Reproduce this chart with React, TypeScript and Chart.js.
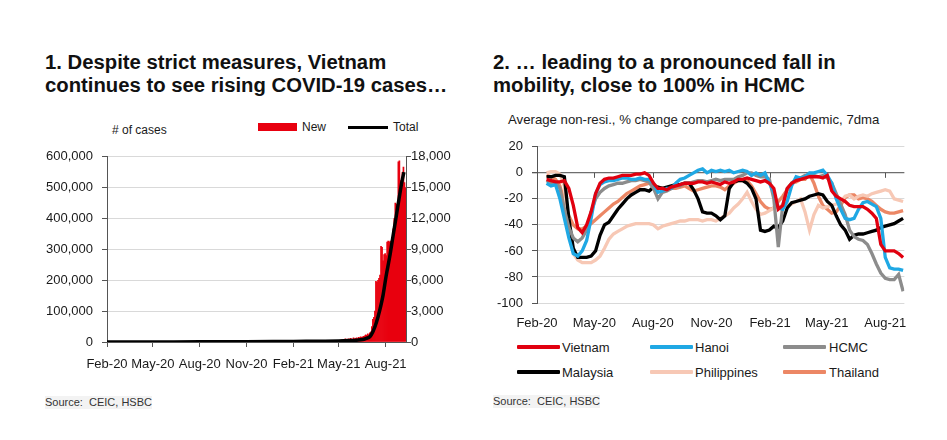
import React, { useEffect, useRef } from 'react';
import { Chart, registerables } from 'chart.js';

Chart.register(...registerables);

const FONT = '"Liberation Sans", Arial, Helvetica, sans-serif';

// Shared quarterly ticks (days since 1 Feb 2020)
const tickDays = [0, 90, 182, 274, 366, 455, 547];
const tickLabels = ['Feb-20', 'May-20', 'Aug-20', 'Nov-20', 'Feb-21', 'May-21', 'Aug-21'];

// Chart 1: Vietnam COVID-19 cases
const newDays = [
  450, 452, 454, 456, 458, 460, 462, 464, 466, 468, 470,
  472, 474, 476, 478, 480, 482, 484, 486, 488, 490, 492, 494, 496, 498, 500,
  502, 504, 506, 508, 510, 512, 514, 516,
  518, 520, 522, 524, 526,
  528, 530, 532, 534, 536,
  538, 540, 542, 544, 546, 548,
  550, 552, 554, 556, 558, 560,
  562, 564, 566, 568, 570, 572, 574,
  576, 578, 580, 582, 584, 586,
];
const newCases = [
  50, 80, 100, 150, 120, 180, 200, 150, 250, 300, 200,
  250, 300, 200, 350, 300, 250, 400, 300, 350, 400, 300, 450, 400, 500, 450,
  500, 550, 600, 700, 650, 800, 700, 900,
  1000, 1500, 2200, 2400, 3000,
  5900, 5800, 6000, 6200, 6500,
  9300, 9200, 7900, 8500, 8600, 8400,
  9700, 9800, 9700, 9800, 9700, 9600,
  11000, 12000, 13500, 13400, 12500, 17500, 17600,
  15700, 15500, 16500, 17000, 15500, 15000,
];
const totalDays = [0, 90, 182, 274, 366, 455, 477, 490, 502, 509, 516, 522, 529, 535, 542, 548, 555, 561, 568, 575, 579, 583];
const totalCases = [0, 300, 500, 1200, 2000, 3000, 4500, 6000, 8000, 12000, 17000, 33000, 64000, 100000, 152000, 214000, 276000, 338000, 409000, 481000, 520000, 550000];

const leftTicks = [0, 100000, 200000, 300000, 400000, 500000, 600000];
const rightTicks = [0, 3000, 6000, 9000, 12000, 15000, 18000];

// Chart 2: mobility, weekly readings starting 16 Feb 2020 (day 15), every 7 days
const mobilityFirstDay = 15;
const mobilityStep = 7;
const vietnam = [
  -5, -6, -7, -7, -6, -12, -25, -42, -46, -40, -30, -16, -8, -5, -4, -4, -3, -2, -2, -2,
  -1, -1, 0, -2, -8, -12, -12, -13, -11, -10, -9, -8, -8, -8, -7, -7, -8, -7, -8, -9,
  -7, -8, -7, -5, -5, -4, -5, -6, -7, -6, -8, -12, -28, -25, -12, -8, -6, -5, -4, -3,
  -3, -3, -4, -2, -14, -18, -20, -22, -25, -26, -26, -26, -28, -31, -35, -55, -60, -60, -60, -62,
  -65,
];
const hanoi = [
  -8, -10, -9, -20, -35, -50, -62, -64, -60, -52, -35, -16, -9, -7, -6, -6, -5, -4, -4, -5,
  -5, -4, -5, -5, -8, -15, -14, -12, -12, -8, -5, -4, -2, 0, 2, 3, 0, 2, 1, 2,
  1, 2, 0, 1, 2, 1, -2, 0, -2, 0, -8, -15, -27, -28, -22, -10, -3, -4, -3, 0,
  0, 1, 2, -2, -8, -20, -28, -35, -36, -35, -28, -23, -22, -24, -26, -35, -65, -73, -74, -74,
  -75,
];
const hcmc = [
  -6, -8, -7, -12, -28, -42, -50, -53, -50, -44, -30, -20, -15, -12, -10, -9, -8, -8, -7, -6,
  -6, -5, -6, -7, -12, -20, -15, -14, -12, -10, -10, -8, -8, -7, -6, -6, -7, -6, -5, -6,
  -5, -5, -5, -3, -2, 0, 0, -2, -3, -3, -5, -20, -57, -25, -12, -8, -5, -4, -2, -2,
  -2, -3, -2, -4, -8, -16, -24, -32, -44, -49, -51, -52, -55, -62, -70, -77, -81, -82, -82, -78,
  -91,
];
const malaysia = [
  -3, -3, -2, -2, -3, -35, -58, -65, -65, -65, -64, -60, -48, -40, -38, -33, -28, -24, -20, -17,
  -15, -13, -13, -14, -11, -11, -12, -11, -10, -9, -9, -8, -8, -13, -20, -30, -31, -31, -33, -36,
  -33, -12, -7, -6, -6, -8, -12, -20, -44, -45, -44, -41, -42, -37, -27, -23, -22, -21, -20, -18,
  -17, -16, -17, -22, -25, -33, -40, -44, -51, -48, -47, -47, -46, -45, -44, -42, -41, -40, -39, -37,
  -35,
];
const philippines = [
  0, 1, 1, -1, -10, -45, -62, -67, -69, -69, -69, -67, -64, -58, -51, -47, -45, -43, -41, -40,
  -39, -39, -39, -39, -40, -43, -41, -40, -39, -38, -37, -37, -36, -36, -36, -37, -36, -36, -37, -35,
  -33, -31, -27, -24, -20, -15, -22, -28, -32, -31, -29, -27, -26, -25, -25, -24, -22, -20, -30, -44,
  -32, -25, -27, -26, -25, -24, -22, -18, -17, -20, -18, -17, -18, -16, -15, -14, -13, -14, -20, -21,
  -22,
];
const thailand = [
  -2, -3, -5, -10, -22, -33, -40, -43, -43, -41, -39, -36, -33, -30, -27, -24, -22, -19, -16, -14,
  -12, -10, -9, -8, -9, -11, -12, -13, -12, -12, -11, -10, -12, -14, -13, -12, -11, -10, -10, -11,
  -13, -10, -8, -6, -6, -6, -10, -16, -22, -26, -28, -27, -22, -18, -13, -8, -7, -5, -5, -1,
  -8, -18, -25, -28, -31, -30, -25, -19, -17, -17, -20, -19, -20, -22, -25, -28, -30, -31, -31, -30,
  -29,
];
const mobilityTicks = [20, 0, -20, -40, -60, -80, -100];

const seriesNames = ['Vietnam', 'Hanoi', 'HCMC', 'Malaysia', 'Philippines', 'Thailand'];
const seriesValues = [vietnam, hanoi, hcmc, malaysia, philippines, thailand];
const seriesColors = ['#E1000F', '#1FA8E4', '#8C8C8C', '#000000', '#F7C8B5', '#EC8765'];

const AXIS = '#555555';
const GRID = '#D9D9D9';

const zeroTicksPlugin = {
  id: 'zeroTicks',
  beforeDatasetsDraw(chart: any) {
    const { ctx, scales } = chart;
    const x = scales.x;
    const y = scales.y;
    const y0 = y.getPixelForValue(0);
    ctx.save();
    ctx.strokeStyle = AXIS;
    ctx.lineWidth = 1;
    x.ticks.forEach((t: any) => {
      const px = Math.round(x.getPixelForValue(t.value)) + 0.5;
      ctx.beginPath();
      ctx.moveTo(px, y0);
      ctx.lineTo(px, y0 + 5);
      ctx.stroke();
    });
    ctx.restore();
  },
};

function setQuarterTicks(scale: any) {
  scale.ticks = tickDays.map((v) => ({ value: v }));
}

export default function App() {
  const leftRef = useRef<HTMLCanvasElement>(null);
  const rightRef = useRef<HTMLCanvasElement>(null);

  useEffect(() => {
    document.body.style.margin = '0';
    Chart.defaults.font.family = FONT;
    Chart.defaults.color = '#1a1a1a';

    const c1 = new Chart(leftRef.current as HTMLCanvasElement, {
      data: {
        datasets: [
          {
            type: 'line',
            label: 'Total',
            data: totalDays.map((d, i) => ({ x: d, y: totalCases[i] })),
            yAxisID: 'y',
            borderColor: '#000000',
            borderWidth: 3.5,
            pointRadius: 0,
            cubicInterpolationMode: 'monotone',
            order: 0,
          },
          {
            type: 'bar',
            label: 'New',
            data: newDays.map((d, i) => ({ x: d, y: newCases[i] })),
            yAxisID: 'y1',
            backgroundColor: '#E8000F',
            borderWidth: 0,
            barPercentage: 1,
            categoryPercentage: 1,
            order: 1,
          },
        ] as any,
      },
      options: {
        responsive: false,
        animation: false,
        plugins: { legend: { display: false }, tooltip: { enabled: false } },
        layout: { padding: { top: 8, left: 0, right: 0, bottom: 0 } },
        scales: {
          x: {
            type: 'linear',
            offset: false,
            min: 0,
            max: 587,
            afterBuildTicks: setQuarterTicks,
            afterFit: (s: any) => { s.height = 38; },
            ticks: {
              autoSkip: false,
              maxRotation: 0,
              padding: 10,
              font: { size: 13 },
              callback: (_v: any, i: number) => tickLabels[i],
            },
            grid: { drawOnChartArea: false, offset: false, tickLength: 5, tickColor: AXIS },
            border: { color: AXIS },
          },
          y: {
            position: 'left',
            min: 0,
            max: 600000,
            afterBuildTicks: (s: any) => { s.ticks = leftTicks.map((v) => ({ value: v })); },
            afterFit: (s: any) => { s.width = 67; },
            ticks: {
              padding: 9,
              font: { size: 13 },
              callback: (v: any) => Number(v).toLocaleString('en-US'),
            },
            grid: { color: GRID, tickLength: 5, tickColor: AXIS },
            border: { color: AXIS },
          },
          y1: {
            position: 'right',
            min: 0,
            max: 18000,
            afterBuildTicks: (s: any) => { s.ticks = rightTicks.map((v) => ({ value: v })); },
            afterFit: (s: any) => { s.width = 54; },
            ticks: {
              padding: 0,
              font: { size: 13 },
              callback: (v: any) => Number(v).toLocaleString('en-US'),
            },
            grid: { drawOnChartArea: false, tickLength: 5, tickColor: AXIS },
            border: { color: AXIS },
          },
        },
      } as any,
    });

    const c2 = new Chart(rightRef.current as HTMLCanvasElement, {
      type: 'line',
      data: {
        datasets: seriesNames.map((name, k) => ({
          label: name,
          data: seriesValues[k].map((v, i) => ({ x: mobilityFirstDay + mobilityStep * i, y: v })),
          borderColor: seriesColors[k],
          borderWidth: 3.3,
          pointRadius: 0,
          tension: 0,
          fill: false,
        })),
      },
      options: {
        responsive: false,
        animation: false,
        plugins: { legend: { display: false }, tooltip: { enabled: false } },
        layout: { padding: { top: 13, left: 0, right: 15, bottom: 0 } },
        scales: {
          x: {
            type: 'linear',
            min: 0,
            max: 577,
            afterBuildTicks: setQuarterTicks,
            afterFit: (s: any) => { s.height = 37; },
            ticks: {
              autoSkip: false,
              maxRotation: 0,
              padding: 13,
              font: { size: 13 },
              callback: (_v: any, i: number) => tickLabels[i],
            },
            grid: { display: false, drawTicks: false },
            border: { display: false },
          },
          y: {
            min: -100,
            max: 20,
            afterBuildTicks: (s: any) => { s.ticks = mobilityTicks.map((v) => ({ value: v })); },
            afterFit: (s: any) => { s.width = 57; },
            ticks: { padding: 9, font: { size: 13 } },
            grid: {
              color: (c: any) => (c.tick && c.tick.value === 0 ? '#6E6E6E' : GRID),
              lineWidth: (c: any) => (c.tick && c.tick.value === 0 ? 1.3 : 1),
              tickLength: 5,
              tickColor: AXIS,
            },
            border: { color: AXIS },
          },
        },
      } as any,
      plugins: [zeroTicksPlugin],
    });

    return () => {
      c1.destroy();
      c2.destroy();
    };
  }, []);

  const abs = (extra: any): any => ({ position: 'absolute', whiteSpace: 'pre', ...extra });
  const titleStyle = { fontSize: 20.3, fontWeight: 700, lineHeight: '22.5px', color: '#111' };

  return (
    <div style={{ position: 'relative', width: 947, height: 440, fontFamily: FONT, color: '#1a1a1a', background: '#fff' }}>
      <div style={abs({ left: 45, top: 51, ...titleStyle })}>
        {'1. Despite strict measures, Vietnam\ncontinues to see rising COVID-19 cases…'}
      </div>
      <div style={abs({ left: 493, top: 51, ...titleStyle })}>
        {'2. … leading to a pronounced fall in\nmobility, close to 100% in HCMC'}
      </div>

      {/* Left chart legend & axis title */}
      <div style={abs({ left: 112, top: 123, fontSize: 12, lineHeight: '14px' })}># of cases</div>
      <div style={abs({ left: 258, top: 123, width: 39, height: 8, background: '#E8000F' })} />
      <div style={abs({ left: 302, top: 120, fontSize: 12, lineHeight: '14px' })}>New</div>
      <div style={abs({ left: 348, top: 125.5, width: 40, height: 3, background: '#000' })} />
      <div style={abs({ left: 393, top: 120, fontSize: 12, lineHeight: '14px' })}>Total</div>

      <canvas ref={leftRef} width={420} height={240} style={{ position: 'absolute', left: 40, top: 140 }} />

      {/* Right chart subtitle */}
      <div style={abs({ left: 508, top: 112, fontSize: 13.2, lineHeight: '15px' })}>
        Average non-resi., % change compared to pre-pandemic, 7dma
      </div>

      <canvas ref={rightRef} width={440} height={210} style={{ position: 'absolute', left: 480, top: 130 }} />

      {/* Right chart legend */}
      {seriesNames.map((name, k) => {
        const col = k % 3;
        const row = Math.floor(k / 3);
        const lineLeft = [517, 650, 783][col];
        const textLeft = [562, 695, 829][col];
        const cy = [347, 372][row];
        return (
          <React.Fragment key={name}>
            <div style={abs({ left: lineLeft, top: cy - 2, width: 43, height: 4, background: seriesColors[k], borderRadius: 1 })} />
            <div style={abs({ left: textLeft, top: cy - 7.5, fontSize: 13, lineHeight: '15px' })}>{name}</div>
          </React.Fragment>
        );
      })}

      <div style={abs({ left: 45, top: 396, fontSize: 11, lineHeight: '13px', background: '#F3F3F3', color: '#333' })}>
        {'Source:  CEIC, HSBC'}
      </div>
      <div style={abs({ left: 493, top: 395, fontSize: 11, lineHeight: '13px', background: '#F3F3F3', color: '#333' })}>
        {'Source:  CEIC, HSBC'}
      </div>
    </div>
  );
}
